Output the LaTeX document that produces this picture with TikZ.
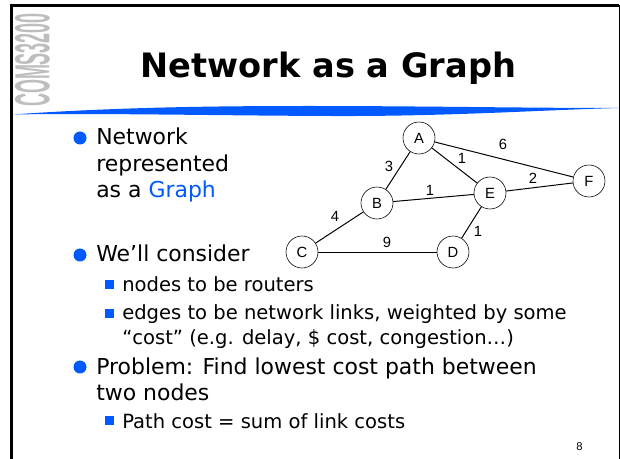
\documentclass[tikz,border=0pt]{standalone}
\usepackage{fontspec}
\setmainfont{DejaVu Sans}
\newfontfamily\nodefont{Liberation Sans}
\newfontfamily\tagfont{Liberation Sans}
\definecolor{slideblue}{RGB}{0,90,255}
\definecolor{taggray}{RGB}{190,190,190}
\tikzset{
	router/.style={draw,circle,inner sep=0pt,minimum size=0.8cm,font=\nodefont\fontsize{10.5}{12}\selectfont},
	weight/.style={inner sep=0pt,font=\nodefont\fontsize{10.5}{12}\selectfont},
	head/.style={anchor=base west,inner sep=0pt,font=\fontsize{15.6}{18}\selectfont},
	sub/.style={anchor=base west,inner sep=0pt,font=\fontsize{13.9}{15}\selectfont},
}
\begin{document}
\begin{tikzpicture}[x=0.025cm,y=-0.025cm]
\useasboundingbox (0,0) rectangle (620,459);
\fill[white] (0,0) rectangle (620,459);
% frame
\draw[line width=1.6pt] (11.5,459) -- (11.5,5.5) -- (619,5.5);
\draw[line width=0.6pt] (619,5.5) -- (619,459);
% swoosh
\fill[slideblue] (12,114.5) .. controls (120,107) and (220,106) .. (310,106)
	.. controls (420,106) and (520,108) .. (619,108)
	.. controls (540,110) and (450,116.5) .. (330,116)
	.. controls (210,115.5) and (100,113) .. (12,114.5) -- cycle;
\node[rotate=90,text=taggray,inner sep=0pt,xscale=0.365] (tag) at (32.5,60) {\tagfont\bfseries\fontsize{35}{35}\selectfont COMS3200};
\node[anchor=base,inner sep=0pt,font=\bfseries\fontsize{23.9}{30}\selectfont] (title) at (328.5,78) {Network as a Graph};
% bullets
\foreach \y in {138,255,367}{
	\fill[slideblue] (80,\y) circle (6.5);
}
\foreach \y in {285,314,421}{
	\fill[slideblue] (105,\y-4.5) rectangle (114,\y+4.5);
}
\node[head] (net) at (96,145) {Network};
\node[head] (rep) at (96,172) {represented};
\node[head] (asa) at (96,198) {as a \textcolor{slideblue}{Graph}};
\node[head] (well) at (96,262) {We’ll consider};
\node[sub] (routers) at (122,292) {nodes to be routers};
\node[sub] (edges) at (122,320) {edges to be network links, weighted by some};
\node[sub] (cost) at (122,345) {“cost” (e.g. delay, \$ cost, congestion…)};
\node[head] (problem) at (96,375) {Problem: Find lowest cost path between};
\node[head] (two) at (96,401) {two nodes};
\node[sub] (path) at (122,429) {Path cost = sum of link costs};
\node[anchor=base east,inner sep=0pt,font=\nodefont\fontsize{8}{10}\selectfont] (page) at (583,451) {8};
% graph
\foreach \n/\x/\y in {A/419/138,B/377/203,C/302/252,D/453/252,E/490/193,F/589/181}{
	\node[router] (\n) at (\x,\y) {\n};
}
\foreach \a/\b in {A/B,A/E,A/F,B/E,B/C,C/D,D/E,E/F}{
	\draw[line width=0.7pt] (\a) -- (\b);
}
\node[weight] (wab) at (389,166) {3};
\node[weight] (wae) at (462,158) {1};
\node[weight] (waf) at (503,144) {6};
\node[weight] (wbe) at (430,190) {1};
\node[weight] (wbc) at (335,216) {4};
\node[weight] (wcd) at (387,242) {9};
\node[weight] (wde) at (478,231) {1};
\node[weight] (wef) at (533,178) {2};
\end{tikzpicture}
\end{document}
